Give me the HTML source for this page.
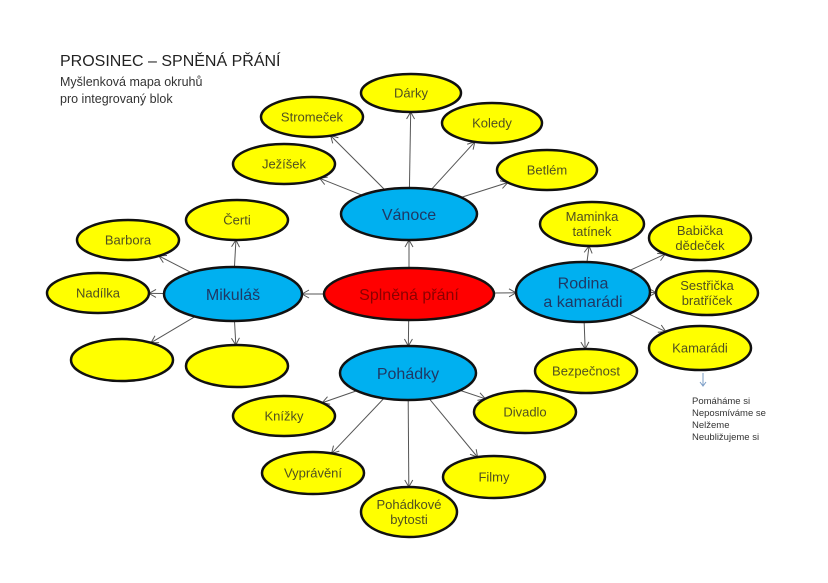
<!DOCTYPE html>
<html><head><meta charset="utf-8"><style>
body{margin:0;background:#fff;width:828px;height:578px;overflow:hidden}
svg text{font-family:"Liberation Sans","DejaVu Sans",sans-serif}
</style></head><body>
<svg id="s" width="828" height="578" xmlns="http://www.w3.org/2000/svg">
<defs><marker id="a" markerWidth="10" markerHeight="10" refX="8" refY="5" orient="auto" markerUnits="userSpaceOnUse"><path d="M1,1 L8,5 L1,9" fill="none" stroke="#555" stroke-width="1"/></marker></defs>
<text x="60" y="66" font-size="16" fill="#222">PROSINEC – SPNĚNÁ PŘÁNÍ</text>
<text x="60" y="86" font-size="12.5" fill="#333">Myšlenková mapa okruhů</text>
<text x="60" y="103" font-size="12.5" fill="#333">pro integrovaný blok</text>
<g id="L"></g><g id="N"></g>
<text x="692" y="404" font-size="9.5" fill="#333">Pomáháme si</text>
<text x="692" y="416" font-size="9.5" fill="#333">Neposmíváme se</text>
<text x="692" y="428" font-size="9.5" fill="#333">Nelžeme</text>
<text x="692" y="440" font-size="9.5" fill="#333">Neubližujeme  si</text>
<line x1="703" y1="373" x2="703" y2="385" stroke="#7a9cc6" stroke-width="1"/>
<path d="M700,382 L703,386 L706,382" fill="none" stroke="#7a9cc6"/>
</svg>
<script>
const N={
 c:[409,294,85,26,'#f00',['Splněná přání'],16],
 v:[409,214,68,26,'#00b0f0',['Vánoce'],16],
 m:[233,294,69,27,'#00b0f0',['Mikuláš'],16],
 r:[583,292,67,30,'#00b0f0',['Rodina','a kamarádi'],16],
 p:[408,373,68,27,'#00b0f0',['Pohádky'],16],
 dar:[411,93,50,19,'#ff0',['Dárky']],
 str:[312,117,51,20,'#ff0',['Stromeček']],
 kol:[492,123,50,20,'#ff0',['Koledy']],
 jez:[284,164,51,20,'#ff0',['Ježíšek']],
 bet:[547,170,50,20,'#ff0',['Betlém']],
 cer:[237,220,51,20,'#ff0',['Čerti']],
 bar:[128,240,51,20,'#ff0',['Barbora']],
 nad:[98,293,51,20,'#ff0',['Nadílka']],
 b1:[122,360,51,21,'#ff0',['']],
 b2:[237,366,51,21,'#ff0',['']],
 mam:[592,224,52,22,'#ff0',['Maminka','tatínek']],
 bab:[700,238,51,22,'#ff0',['Babička','dědeček']],
 ses:[707,293,51,22,'#ff0',['Sestřička','bratříček']],
 kam:[700,348,51,22,'#ff0',['Kamarádi']],
 bez:[586,371,51,22,'#ff0',['Bezpečnost']],
 kni:[284,416,51,20,'#ff0',['Knížky']],
 div:[525,412,51,21,'#ff0',['Divadlo']],
 vyp:[313,473,51,21,'#ff0',['Vyprávění']],
 fil:[494,477,51,21,'#ff0',['Filmy']],
 poh:[409,512,48,25,'#ff0',['Pohádkové','bytosti']]
};
const E=[['c','v'],['c','m'],['c','r'],['c','p'],
['v','dar'],['v','str'],['v','kol'],['v','jez'],['v','bet'],
['m','cer'],['m','bar'],['m','nad'],['m','b1'],['m','b2'],
['r','mam'],['r','bab'],['r','ses'],['r','kam'],['r','bez'],
['p','kni'],['p','div'],['p','vyp'],['p','fil'],['p','poh']];
const ns='http://www.w3.org/2000/svg';
function el(t,a,p){const e=document.createElementNS(ns,t);for(const k in a)e.setAttribute(k,a[k]);p.appendChild(e);return e}
function bd(n,dx,dy){const[x,y,rx,ry]=n;const t=1/Math.sqrt((dx*dx)/(rx*rx)+(dy*dy)/(ry*ry));return[x+dx*t,y+dy*t]}
const L=document.getElementById('L'),G=document.getElementById('N');
for(const[a,b]of E){const A=N[a],B=N[b];const dx=B[0]-A[0],dy=B[1]-A[1];
 const p=bd(A,dx,dy),q=bd(B,-dx,-dy);
 el('line',{x1:p[0],y1:p[1],x2:q[0],y2:q[1],stroke:'#555','stroke-width':1,'marker-end':'url(#a)'},L)}
for(const k in N){const[x,y,rx,ry,f,t,fs]=N[k];
 el('ellipse',{cx:x,cy:y,rx:rx,ry:ry,fill:f,stroke:'#111','stroke-width':2.5},G);
 const s=fs||13,col=k=='c'?'#8b0000':(fs?'#1f3864':'#505020');
 t.forEach((l,i)=>{const tt=el('text',{x:x,y:y+s*0.36+(i-(t.length-1)/2)*s*1.15,'font-size':s,'text-anchor':'middle',fill:col},G);tt.textContent=l;});}
</script>
</body></html>
